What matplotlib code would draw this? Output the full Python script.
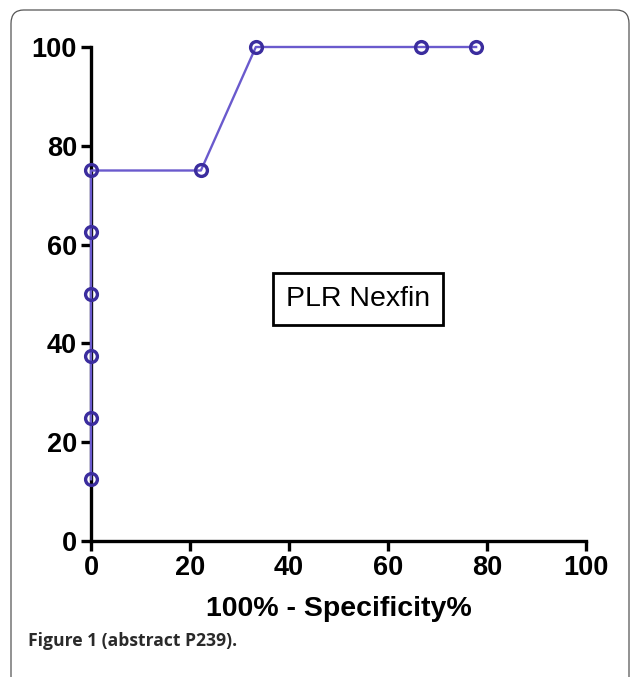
import matplotlib.pyplot as plt
from matplotlib.patches import FancyBboxPatch

# ROC points
fpr = [0, 0, 0, 0, 0, 0, 22.2, 33.3, 66.7, 77.8]
tpr = [12.5, 25, 37.5, 50, 62.5, 75, 75, 100, 100, 100]
ticks = [0, 20, 40, 60, 80, 100]

plt.rcParams["font.family"] = ["Liberation Sans", "DejaVu Sans"]

fig = plt.figure(figsize=(6.33, 6.77), dpi=100)

# rounded frame around the figure panel
frame = FancyBboxPatch((11 / 633, -20 / 677), 618 / 633, 687 / 677,
                       boxstyle="round,pad=0,rounding_size=0.02",
                       transform=fig.transFigure, fill=False,
                       edgecolor="#555555", linewidth=0.9)
fig.patches.append(frame)

ax = fig.add_axes([91 / 633, 1 - 541 / 677, 495 / 633, 494 / 677])
ax.plot(fpr, tpr, color="#6a5acd", linewidth=1.7, marker="o", markersize=8.5,
        markerfacecolor="none", markeredgecolor="#3b2d9e", markeredgewidth=2.4,
        clip_on=False, zorder=3)

ax.set_xlim(0, 100)
ax.set_ylim(0, 100)
ax.set_xticks(ticks)
ax.set_yticks(ticks)
for side in ("top", "right"):
    ax.spines[side].set_visible(False)
for side in ("left", "bottom"):
    ax.spines[side].set_linewidth(2.4)
ax.tick_params(width=2.4, length=7, labelsize=19.5, pad=3)
for lab in ax.get_xticklabels() + ax.get_yticklabels():
    lab.set_fontweight("bold")
ax.set_xlabel("100% - Specificity%", fontsize=20.5, fontweight="bold", labelpad=11)

ax.text(54, 49, "PLR Nexfin", fontsize=20.5, ha="center", va="center",
        bbox=dict(boxstyle="square,pad=0.45", facecolor="white",
                  edgecolor="black", linewidth=2))

fig.text(28 / 633, 1 - 641 / 677, "Figure 1 (abstract P239).", fontsize=12.6,
         fontweight="bold", color="#2a2a2a", family=["Open Sans", "DejaVu Sans"],
         va="center")

fig.savefig("out.png", dpi=100)
